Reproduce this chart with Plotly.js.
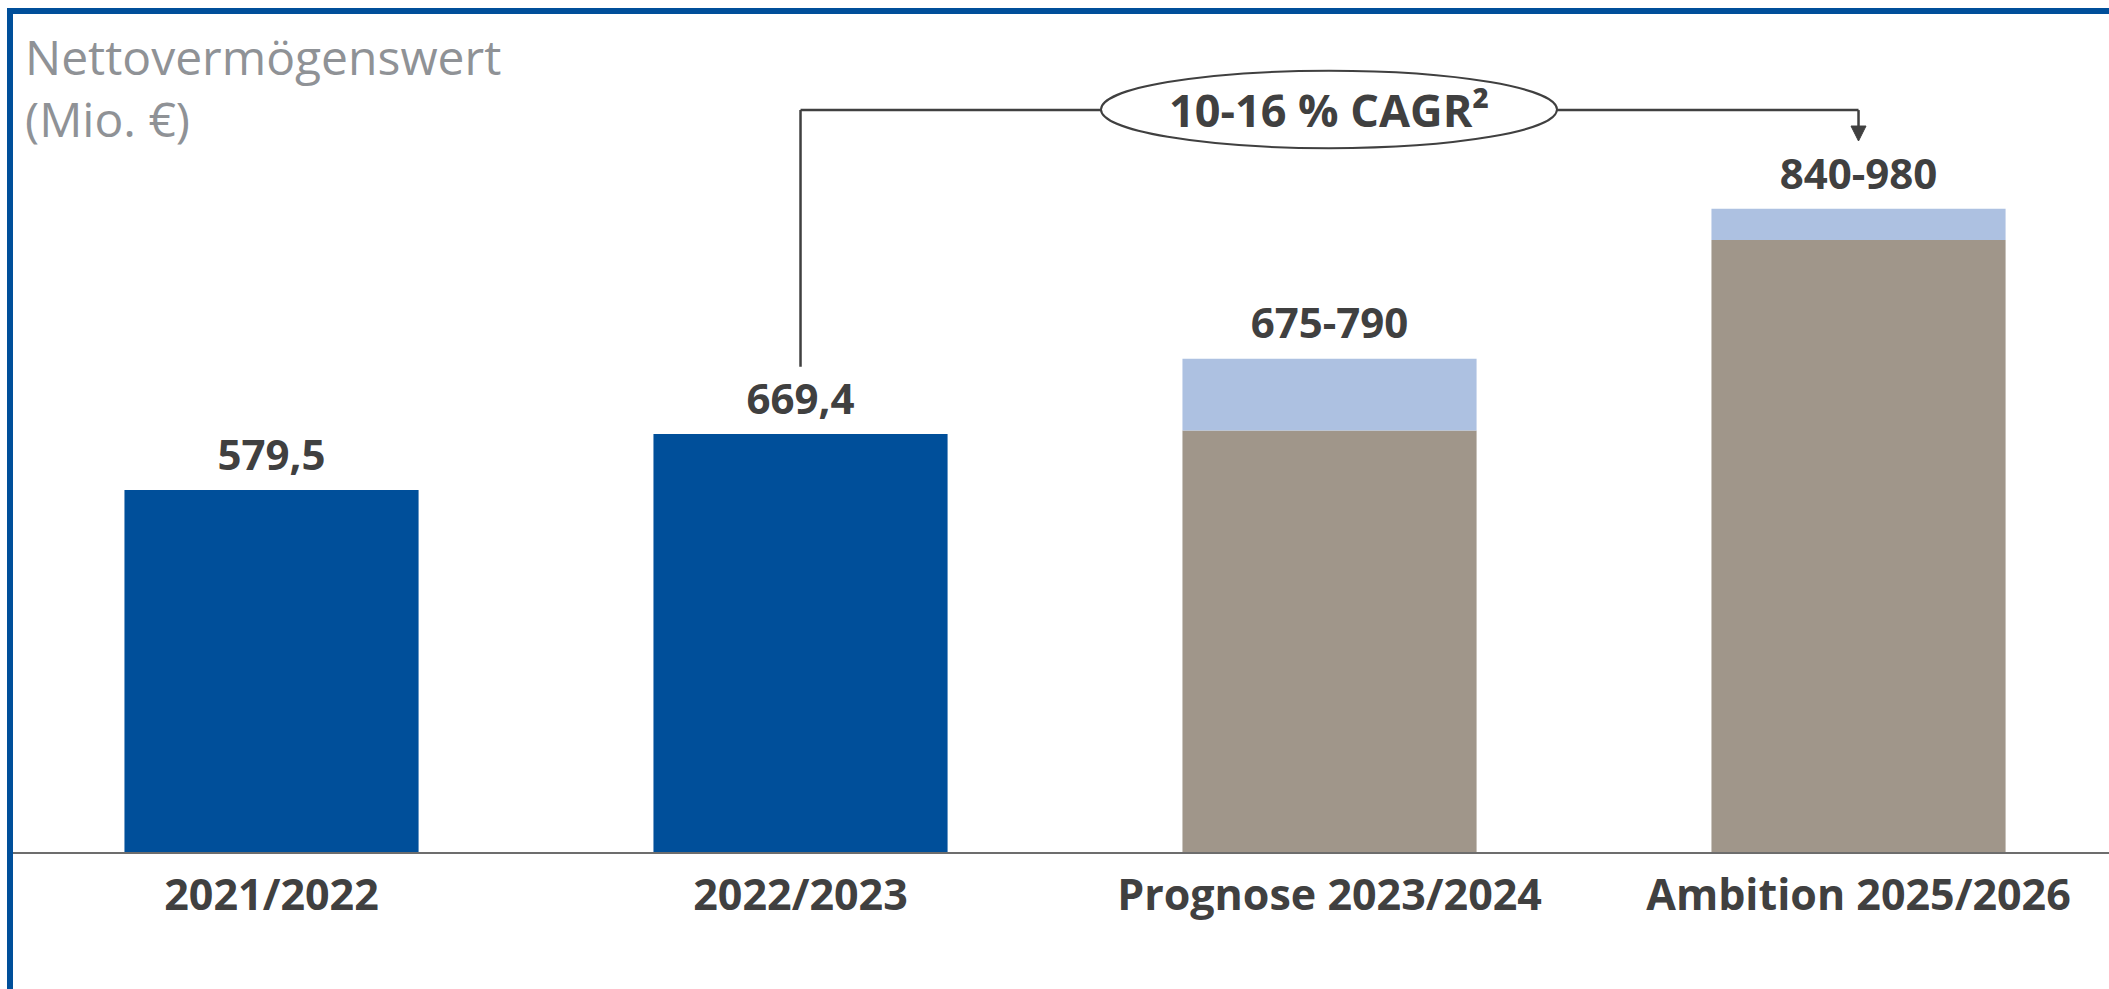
<!DOCTYPE html>
<html>
<head>
<meta charset="utf-8">
<script src="https://cdn.plot.ly/plotly-3.0.1.min.js"></script>
<style>html,body{margin:0;padding:0;background:#fff;}#chart{width:2109px;height:989px;}</style>
</head>
<body>
<div id="chart"></div>
<script>
// ---- data ----
const categories = ['2021/2022', '2022/2023', 'Prognose 2023/2024', 'Ambition 2025/2026'];
const actualValues = [579.5, 669.4, null, null];        // dark blue bars
const forecastBase = [null, null, 675, 980];             // grey-brown bars (as drawn)
const forecastTop  = [null, null, 790, 1030];            // top of light-blue range (as drawn)
const valueLabels  = ['579,5', '669,4', '675-790', '840-980'];
const cagrLabel    = '10-16 % CAGR²';
const yAxisTitle   = 'Nettovermögenswert<br>(Mio. €)';

// ---- derived for the library ----
const xIdx = categories.map((_, i) => i);
const rangeSpan = forecastTop.map((t, i) => (t == null ? null : t - forecastBase[i]));
const labelY = categories.map((_, i) => Math.max(actualValues[i] || 0, forecastTop[i] || 0));

const BLUE = '#004f9a', GREY = '#a0968a', LIGHT = '#adc1e1', DARK = '#404040';
const FONT = '"Open Sans", "Noto Sans", sans-serif';
const BW = 0.556;

const traces = [
  {type: 'bar', x: xIdx, y: actualValues, width: BW, marker: {color: BLUE, line: {width: 0}}, hoverinfo: 'skip'},
  {type: 'bar', x: xIdx, y: forecastBase, width: BW, marker: {color: GREY, line: {width: 0}}, hoverinfo: 'skip'},
  {type: 'bar', x: xIdx, y: rangeSpan, base: forecastBase, width: BW, marker: {color: LIGHT, line: {width: 0}}, hoverinfo: 'skip'},
  {type: 'scatter', mode: 'markers+text', x: xIdx, y: labelY, text: valueLabels, textposition: 'top center',
   marker: {size: 14, opacity: 0},
   textfont: {family: FONT, size: 42, color: DARK, weight: 700}, hoverinfo: 'skip', cliponaxis: false}
];

// connector geometry (data coordinates)
const xStart = 1, xEnd = 3, yLine = 1188, yStartLow = 777;
const ellX0 = 1.568, ellX1 = 2.430, ellY0 = 1127, ellY1 = 1251;
const tipY = 1138.5, headY = 1162.5, headHalf = 0.0142;

const layout = {
  width: 2109, height: 989,
  margin: {l: 13, r: 0, t: 0, b: 137, pad: 0},
  paper_bgcolor: '#ffffff', plot_bgcolor: '#ffffff',
  showlegend: false,
  barmode: 'overlay',
  xaxis: {
    range: [-0.4887, 3.4735], tickvals: xIdx, ticktext: categories, ticks: '',
    showgrid: false, zeroline: false, showline: true, linecolor: '#6d6d6d', linewidth: 2,
    tickfont: {family: FONT, size: 43, color: DARK, weight: 700}, ticklabelstandoff: 4, fixedrange: true
  },
  yaxis: {range: [0, 1364.3], visible: false, showgrid: false, zeroline: false, fixedrange: true},
  shapes: [
    // frame
    {type: 'rect', xref: 'paper', yref: 'paper', x0: -0.00143, x1: 1.05, y0: -0.3, y1: 0.9871,
     line: {color: BLUE, width: 6}, fillcolor: 'rgba(0,0,0,0)', layer: 'above'},
    // connector lines
    {type: 'line', x0: xStart, x1: xStart, y0: yStartLow, y1: yLine, line: {color: DARK, width: 2.5}},
    {type: 'line', x0: xStart, x1: ellX0, y0: yLine, y1: yLine, line: {color: DARK, width: 2.5}},
    {type: 'line', x0: ellX1, x1: xEnd, y0: yLine, y1: yLine, line: {color: DARK, width: 2.5}},
    {type: 'line', x0: xEnd, x1: xEnd, y0: yLine, y1: headY, line: {color: DARK, width: 2.5}},
    {type: 'path', path: `M ${xEnd - headHalf} ${headY} L ${xEnd + headHalf} ${headY} L ${xEnd} ${tipY} Z`,
     fillcolor: DARK, line: {color: DARK, width: 1}},
    {type: 'circle', x0: ellX0, x1: ellX1, y0: ellY0, y1: ellY1, fillcolor: '#ffffff', line: {color: DARK, width: 2}}
  ],
  annotations: [
    {x: (ellX0 + ellX1) / 2, y: (ellY0 + ellY1) / 2, text: cagrLabel, showarrow: false,
     font: {family: FONT, size: 45, color: DARK, weight: 700}, xanchor: 'center', yanchor: 'middle'},
    {xref: 'paper', yref: 'paper', x: 0.0048, y: (852 - 22) / 852, xanchor: 'left', yanchor: 'top', align: 'left',
     text: yAxisTitle, showarrow: false, font: {family: FONT, size: 48, color: '#8f9296'}}
  ]
};

Plotly.newPlot('chart', traces, layout, {displayModeBar: false, staticPlot: true});
</script>
</body>
</html>
